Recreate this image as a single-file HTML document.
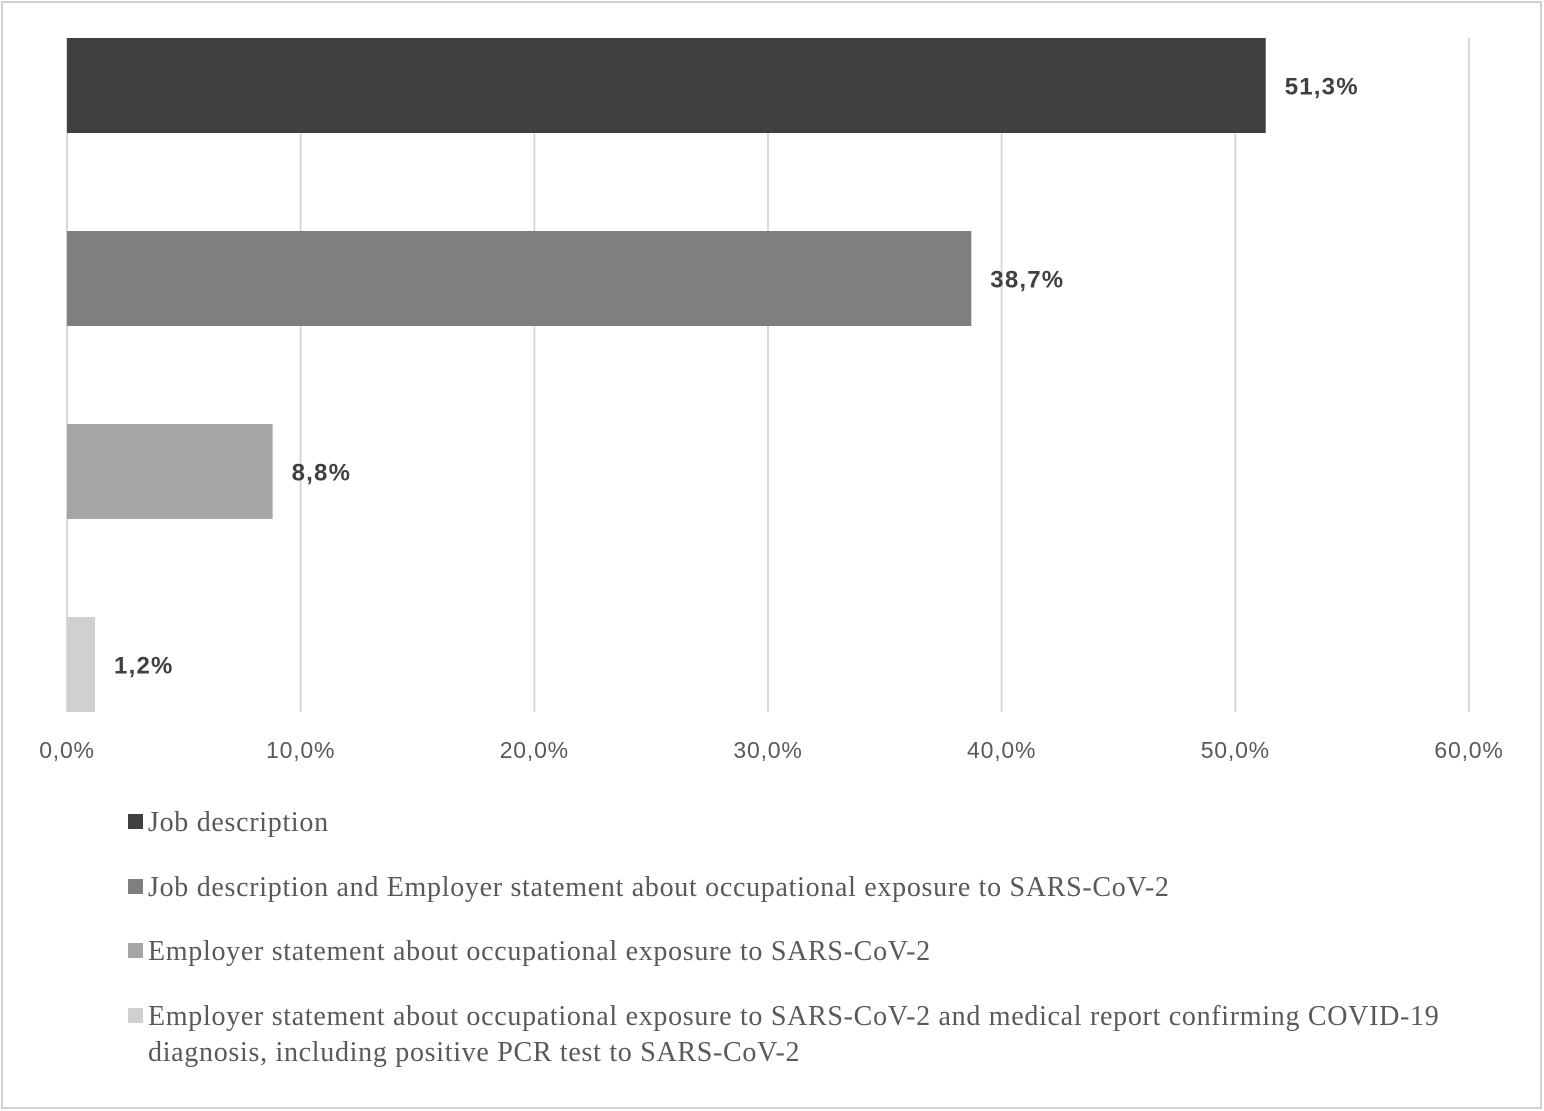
<!DOCTYPE html>
<html><head><meta charset="utf-8"><style>
html,body{margin:0;padding:0;background:#fff;}
svg{display:block;}
</style></head><body>
<svg id="chart" width="1544" height="1111" xmlns="http://www.w3.org/2000/svg">
<rect x="2" y="2" width="1539" height="1106" fill="#fff" stroke="#d0d0d0" stroke-width="2"/>
<g id="grid"></g><g id="bars"></g><g id="ticks"></g><g id="legend"></g>
</svg>
<script>
const categories = ["Job description","Job description and Employer statement about occupational exposure to SARS-CoV-2","Employer statement about occupational exposure to SARS-CoV-2","Employer statement about occupational exposure to SARS-CoV-2 and medical report confirming COVID-19|diagnosis, including positive PCR test to SARS-CoV-2"];
const values = [51.3, 38.7, 8.8, 1.2];
const valueLabels = ["51,3%","38,7%","8,8%","1,2%"];
const ticks = [0,10,20,30,40,50,60];
const tickLabels = ["0,0%","10,0%","20,0%","30,0%","40,0%","50,0%","60,0%"];
const colors = ["#404040","#7f7f7f","#a6a6a6","#d0d0d0"];
const NS="http://www.w3.org/2000/svg";
const x0=67,x1=1469,plotTop=38,plotBottom=712;
const xs=v=>x0+(v-0)/(60-0)*(x1-x0);
const barH=95;
function mk(t,a,p){const e=document.createElementNS(NS,t);for(const k in a)e.setAttribute(k,a[k]);p.appendChild(e);return e;}
const grid=document.getElementById('grid'),bars=document.getElementById('bars'),tk=document.getElementById('ticks'),lg=document.getElementById('legend');
ticks.forEach((t,i)=>{
  const l=mk('line',{x1:xs(t),x2:xs(t),y1:plotTop,y2:plotBottom,stroke:'#d9d9d9','stroke-width':2},grid);
  
  
  const tx=mk('text',{x:xs(t),y:758,'text-anchor':'middle','font-family':'Liberation Sans, sans-serif','font-size':23,'letter-spacing':0.8,fill:'#595959'},tk);
  tx.textContent=tickLabels[i];
  
  
});
values.forEach((v,i)=>{
  const by=plotTop+i*(plotBottom-plotTop-barH)/(categories.length-1);
  const r=mk('rect',{x:x0,y:by,width:xs(v)-x0,height:barH,fill:colors[i]},bars);
  
  
  const t=mk('text',{x:xs(v)+19,y:by+barH/2+9,'font-family':'Liberation Sans, sans-serif','font-size':24,'font-weight':'bold','letter-spacing':1.2,fill:'#404040'},bars);
  t.textContent=valueLabels[i];
  
  
});
const legY=[822,887,951,1016];
categories.forEach((c,i)=>{
  const s=mk('rect',{x:128,y:legY[i]-8,width:15,height:15,fill:colors[i]},lg);
  
  
  c.split('|').forEach((line,j)=>{
    const t=mk('text',{x:148,y:legY[i]+9+j*36,'font-family':'Liberation Serif, serif','font-size':28,'letter-spacing':0.7,fill:'#595959'},lg);
    t.textContent=line;
    
    
  });
});
</script>
</body></html>
